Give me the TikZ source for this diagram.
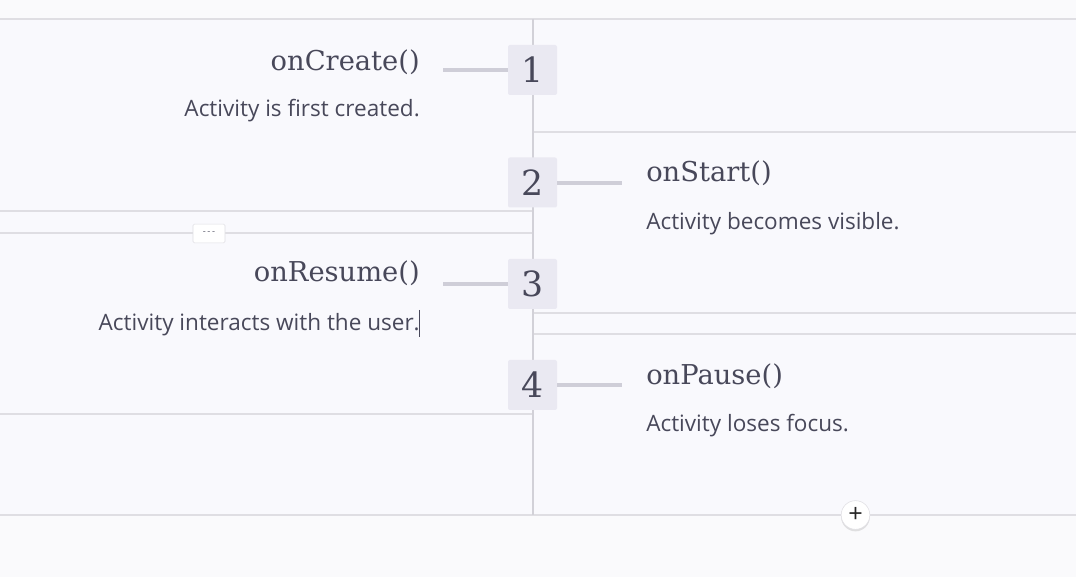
\documentclass[tikz,border=0pt]{standalone}
\usepackage{fontspec}
\newfontfamily\bodyfont{Open Sans}
\newfontfamily\headfont{DejaVu Serif}
\usetikzlibrary{shadows}
\definecolor{bg}{HTML}{F9F9FD}
\definecolor{outerbg}{HTML}{FAFAFC}
\definecolor{rule}{HTML}{DFDEE3}
\definecolor{vrule}{HTML}{D2D1D8}
\definecolor{boxfill}{HTML}{EAE9F2}
\definecolor{conn}{HTML}{CFCED8}
\definecolor{ink}{HTML}{48485A}
\tikzset{
  x=0.75pt, y=-0.75pt,
  numbox/.style={fill=boxfill, rounded corners=1.5pt, minimum width=36.75pt, minimum height=37.5pt, inner sep=0pt, text=ink, font=\headfont\fontsize{26}{26}\selectfont},
  title/.style={inner sep=0pt, text=ink, font=\headfont\fontsize{20.5}{21}\selectfont},
  desc/.style={inner sep=0pt, text=ink, font=\bodyfont\fontsize{16.9}{18}\selectfont},
  conline/.style={draw=conn, line width=2.3pt},
  hrule/.style={draw=rule, line width=0.8pt},
}
\begin{document}
\begin{tikzpicture}
\fill[outerbg] (0,0) rectangle (1076,577);
\fill[bg] (0,19) rectangle (1076,515);
\useasboundingbox (0,0) rectangle (1076,577);
% rules
\draw[hrule] (0,19) -- (1076,19);
\draw[hrule] (0,515) -- (1076,515);
\draw[hrule] (533,132) -- (1076,132);
\draw[hrule] (0,211) -- (533,211);
\draw[hrule] (0,233) -- (533,233);
\draw[hrule] (533,313) -- (1076,313);
\draw[hrule] (533,334) -- (1076,334);
\draw[hrule] (0,414) -- (533,414);
\draw[draw=vrule, line width=0.9pt] (533,19) -- (533,515);
% small "---" box
\node[draw=rule, fill=white, rounded corners=1pt, minimum width=24pt, minimum height=14pt, inner sep=0pt, text=ink!85, font=\bodyfont\fontsize{7}{7}\selectfont] (more) at (209,233.5) {-\,-\,-};
% plus button
\node[circle, draw=rule, fill=white, minimum size=21.5pt, inner sep=0pt, drop shadow={opacity=0.22, shadow xshift=0pt, shadow yshift=-1.5pt}, text=black!85, font=\bodyfont\fontsize{19}{19}\selectfont] (plus) at (855.5,515) {+};
% number boxes
\node[numbox] (n1) at (532.5,70) {1};
\node[numbox] (n2) at (532.5,182.5) {2};
\node[numbox] (n3) at (532.5,284) {3};
\node[numbox] (n4) at (532.5,385) {4};
% connector end coordinates
\coordinate (c1) at (443,70);
\coordinate (c2) at (622,183);
\coordinate (c3) at (443,284);
\coordinate (c4) at (622,385);
\draw[conline] (c1) -- (n1.west|-c1);
\draw[conline] (n2.east|-c2) -- (c2);
\draw[conline] (c3) -- (n3.west|-c3);
\draw[conline] (n4.east|-c4) -- (c4);
% texts
\node[title, anchor=base east] (t1) at (420,71) {onCreate()};
\node[desc, anchor=base east] (d1) at (420,117) {Activity is first created.};
\node[title, anchor=base west] (t2) at (646,182) {onStart()};
\node[desc, anchor=base west] (d2) at (646,230) {Activity becomes visible.};
\node[title, anchor=base east] (t3) at (420,282) {onResume()};
\node[desc, anchor=base east] (d3) at (420,331) {Activity interacts with the user.};
\node[title, anchor=base west] (t4) at (646,385) {onPause()};
\node[desc, anchor=base west] (d4) at (646,432) {Activity loses focus.};
% text cursor
\draw[ink, line width=0.8pt] (419.5,310) -- (419.5,337);
\end{tikzpicture}
\end{document}
